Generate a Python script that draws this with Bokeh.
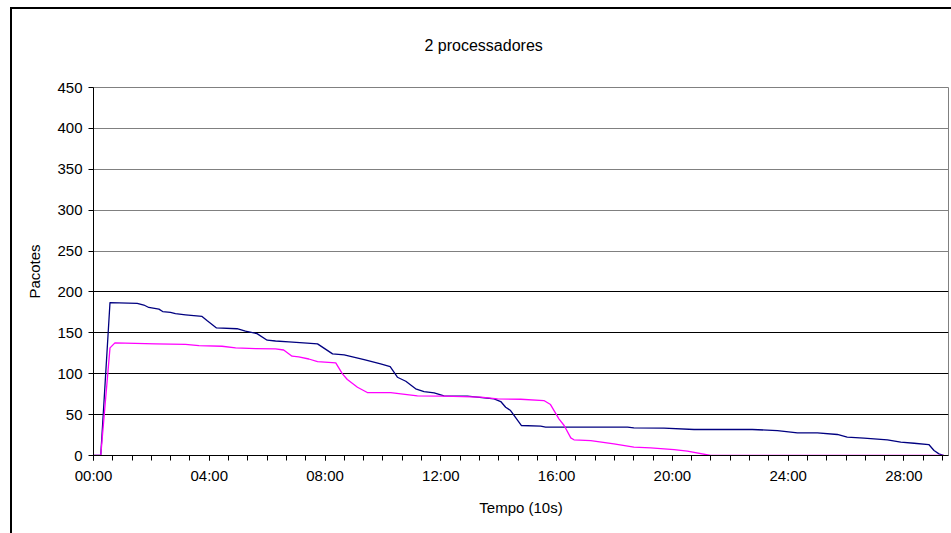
from bokeh.plotting import figure
from bokeh.models import Range1d, FixedTicker, Grid, InlineStyleSheet
from bokeh.embed import file_html
from bokeh.resources import INLINE

# Elapsed time in minutes and packet counts for each series
t_serie1 = [0.0, 0.25, 0.57, 1.51, 1.74, 1.91, 2.26, 2.39, 2.66, 2.83, 3.18, 3.75,
            3.92, 4.25, 4.96, 5.25, 5.65, 6.00, 6.29, 6.75, 7.38, 7.74, 8.26, 8.66,
            9.35, 9.92, 10.25, 10.50, 10.79, 11.13, 11.42, 11.77, 12.11, 12.92,
            13.84, 14.07, 14.24, 14.41, 14.78, 15.45, 15.62, 18.45, 18.67, 19.71,
            20.75, 22.76, 23.63, 24.32, 25.01, 25.70, 26.04, 26.62, 27.43, 27.89,
            28.35, 28.86, 29.04, 29.21, 29.38]
serie1 = [0, 0, 187, 186, 184, 181, 179, 176, 175, 173.5, 172, 170,
          165, 156, 155, 152, 149, 141, 140, 139, 137.5, 136.5, 124.3, 123,
          117.3, 112, 108.7, 95.7, 90.8, 81.5, 78.2, 76.6, 73, 72.5,
          69.2, 66, 59, 55, 36.7, 35.8, 34.6, 34.6, 33.8, 33.4,
          31.8, 31.8, 30.5, 27.7, 27.7, 25.7, 22.4, 21.2, 19.2, 16.3,
          15, 13.4, 6.1, 2, 0]

t_serie2 = [0.0, 0.25, 0.57, 0.74, 2.14, 3.18, 3.64, 4.44, 4.91, 5.60, 6.29, 6.57,
            6.86, 7.09, 7.44, 7.74, 8.37, 8.60, 8.77, 9.12, 9.46, 10.27, 10.62,
            11.19, 12.11, 13.38, 13.96, 14.76, 15.56, 15.79, 16.08, 16.26, 16.49,
            16.60, 17.18, 17.98, 18.67, 19.25, 20.06, 20.52, 21.32, 29.38]
serie2 = [0, 0, 131.6, 137.7, 136.5, 136, 134.4, 133.6, 131.6, 130.7, 130.3, 129,
          121.4, 120.6, 118, 114.8, 113.3, 99.8, 92.9, 83.5, 77, 77, 75.4,
          72.9, 72.5, 71.3, 69.2, 68.8, 67.2, 62.3, 44.8, 36.7, 21.6,
          19.2, 18.3, 14.3, 10.2, 9.4, 7.3, 5.3, 0, 0]

x_ticks = [0, 4, 8, 12, 16, 20, 24, 28]
x_tick_labels = ["00:00", "04:00", "08:00", "12:00", "16:00", "20:00", "24:00", "28:00"]
y_ticks = [0, 50, 100, 150, 200, 250, 300, 350, 400, 450]

FONT = "Liberation Sans"

# thick black border around the whole chart area
frame_css = InlineStyleSheet(css="""
:host { position: relative; }
:host::after {
  content: "";
  position: absolute;
  left: 10px; top: 7px;
  width: 960px; height: 560px;
  border: 2.5px solid black;
  pointer-events: none;
  box-sizing: border-box;
}
""")

p = figure(width=951, height=533, output_backend="svg", toolbar_location=None,
           x_range=Range1d(0, 29.54), y_range=Range1d(0, 450),
           min_border_left=93, min_border_right=3, min_border_top=87,
           min_border_bottom=78, title="2 processadores")
p.stylesheets = [frame_css]
p.background_fill_color = "white"
p.border_fill_color = "white"
p.outline_line_color = "#808080"
p.outline_line_width = 1

p.title.align = "left"
p.title.offset = 331
p.title.text_font = FONT
p.title.text_font_size = "16px"
p.title.text_font_style = "normal"
p.title.text_color = "black"
p.title.text_line_height = 1.0
p.title.standoff = 68

# grid: lighter lines in the upper half, black ones below
p.xgrid.grid_line_color = None
p.ygrid.grid_line_color = None
p.add_layout(Grid(dimension=1, ticker=FixedTicker(ticks=[250, 300, 350, 400]),
                  grid_line_color="#808080", grid_line_width=1))
p.add_layout(Grid(dimension=1, ticker=FixedTicker(ticks=[50, 100, 150, 200]),
                  grid_line_color="black", grid_line_width=1))

minor = [i * 2 / 3 for i in range(45)]
xa = p.xaxis[0]
xa.ticker = FixedTicker(ticks=x_ticks, minor_ticks=minor)
xa.major_label_overrides = {t: s for t, s in zip(x_ticks, x_tick_labels)}
xa.axis_label = "Tempo (10s)"
ya = p.yaxis[0]
ya.ticker = FixedTicker(ticks=y_ticks)
ya.axis_label = "Pacotes"

for ax in (xa, ya):
    ax.axis_line_color = "black"
    ax.axis_line_width = 1
    ax.major_tick_line_color = "black"
    ax.minor_tick_line_color = "black"
    ax.major_tick_in = 0
    ax.major_tick_out = 5
    ax.minor_tick_in = 0
    ax.minor_tick_out = 5
    ax.major_label_text_font = FONT
    ax.major_label_text_font_size = "15px"
    ax.major_label_text_color = "black"
    ax.axis_label_text_font = FONT
    ax.axis_label_text_font_size = "15px"
    ax.axis_label_text_font_style = "normal"
    ax.axis_label_text_color = "black"
ya.minor_tick_out = 0
ya.major_label_standoff = 6
xa.major_label_standoff = 6
xa.axis_label_standoff = 12
ya.axis_label_standoff = 11

p.line(t_serie1, serie1, line_color="#000080", line_width=1.3, line_join="round")
p.line(t_serie2, serie2, line_color="#FF00FF", line_width=1.3, line_join="round")

open("out.html", "w").write(file_html(p, INLINE))
